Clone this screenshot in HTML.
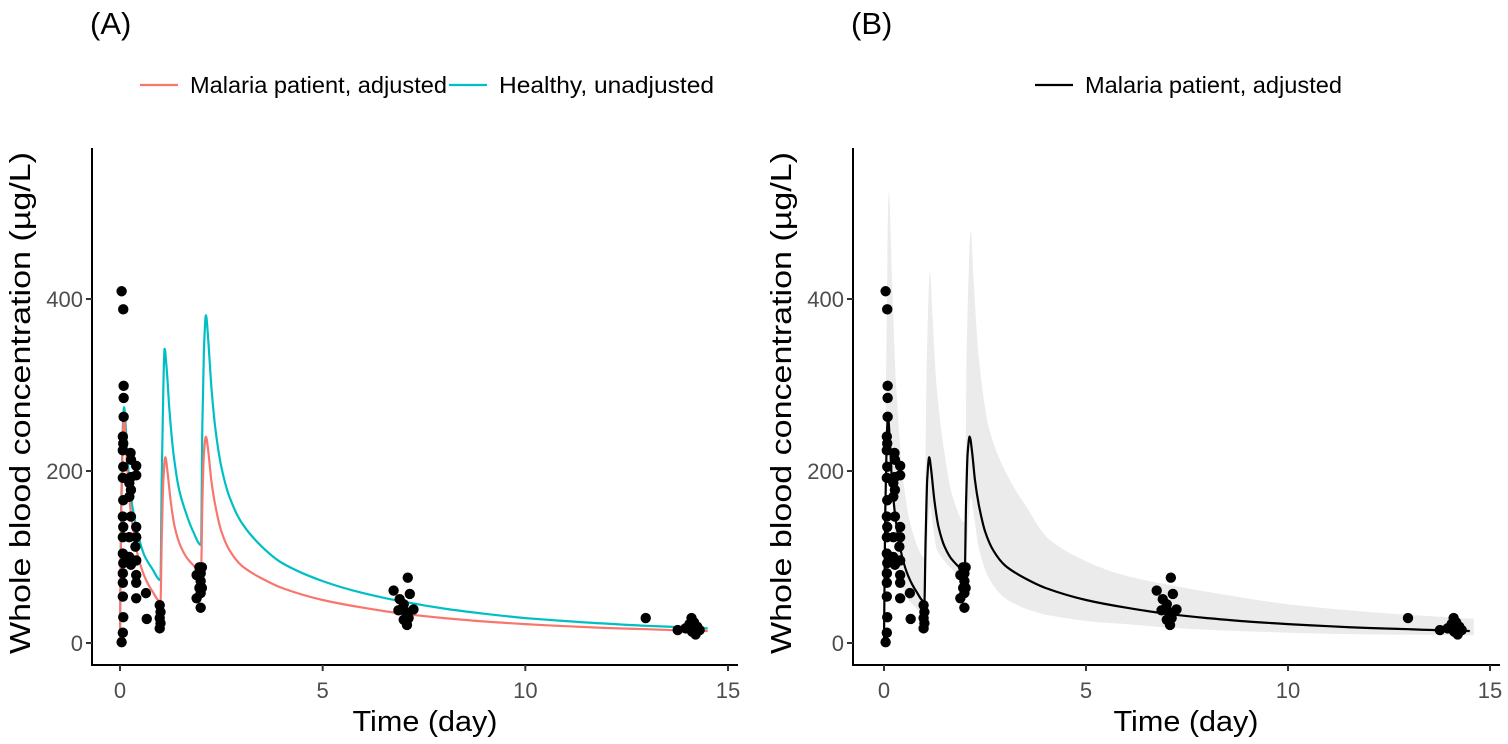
<!DOCTYPE html>
<html><head><meta charset="utf-8"><style>
html,body{margin:0;padding:0;background:#fff;}
svg{display:block;font-family:"Liberation Sans",Arial,sans-serif;}
</style></head><body>
<svg id="chart" width="1508" height="744" viewBox="0 0 1508 744" xmlns="http://www.w3.org/2000/svg"></svg>
<script>
// ---- data ----
const obsTime = [0.04,0.08,0.09,0.09,0.09,0.07,0.08,0.07,0.26,0.27,0.40,0.08,0.40,0.07,0.27,0.23,0.27,0.23,0.08,0.07,0.27,0.08,0.40,0.07,0.23,0.40,0.38,0.07,0.23,0.40,0.08,0.27,0.07,0.40,0.07,0.40,0.07,0.40,0.64,0.08,0.66,0.07,0.04,0.98,1.00,0.98,0.98,1.00,1.96,2.02,1.99,1.89,1.99,1.96,2.02,1.89,1.99,1.99,7.10,6.75,7.15,6.90,7.00,7.24,6.87,7.05,7.12,7.08,7.00,12.97,13.76,14.10,14.16,14.24,14.00,14.12,14.20,14.05,13.95,14.30];
const obsConc = [409,388,299,285,263,240,232,224,221,213,206,205,195,192,193,186,178,170,166,147,147,135,135,123,123,123,112,104,100,96,93,91,81,79,70,70,54,52,58,30,28,12,1,44,36,29,17,23,88,88,81,79,72,64,64,52,41,58,76,61,57,51,45,39,38,36,29,21,27,29,15,29,24,19,17,13,10,22,17,15];

const redTime = [0,0.03,0.07,0.1,0.15,0.2,0.3,0.45,0.6,0.8,1.0,1.03,1.07,1.12,1.17,1.25,1.35,1.5,1.7,2.0,2.03,2.07,2.12,2.18,2.25,2.35,2.5,2.7,3.0,3.5,4.0,5,6,7,8,9,10,11,12,13,14,14.5];
const redConc = [0,150,240,262,230,185,140,100,78,60,48,120,190,216,200,165,135,112,96,85,160,220,240,222,190,160,130,108,90,75,64,50,41,34,29,25,22,19.5,17.5,16,14.5,14];

const tealTime = [0,0.03,0.07,0.1,0.15,0.2,0.3,0.45,0.6,0.8,1.0,1.03,1.07,1.1,1.15,1.22,1.32,1.45,1.6,1.8,2.0,2.03,2.07,2.12,2.18,2.25,2.35,2.5,2.7,3.0,3.5,4.0,5,6,7,8,9,10,11,12,13,14,14.5];
const tealConc = [0,160,250,274,245,205,160,125,102,86,73,190,300,342,320,270,220,180,155,130,114,250,340,381,350,300,250,205,170,140,112,93,72,58,48,40,34,29,25.5,22.5,20,18,17];

const bandTime  = [0,0.05,0.12,0.2,0.3,0.5,0.7,1.0,1.05,1.14,1.2,1.3,1.5,1.7,2.0,2.05,2.15,2.22,2.35,2.6,3.0,3.5,4.1,5.35,6,7,8.2,10,12,14.6];
const bandUpper = [0,300,524,420,300,180,130,100,300,431,380,300,220,170,140,350,478,420,330,250,200,160,120,88,78,68,58,45,36,28];
const bandLower = [0,100,250,180,110,60,45,35,90,160,140,110,95,85,73,110,170,150,110,75,52,40,32,24,22,18,15,12,10,9];

const xTicks = [0,5,10,15];
const yTicks = [0,200,400];

// ---- drawing ----
const NS = "http://www.w3.org/2000/svg";
const svg = document.getElementById('chart');
function mk(tag, attrs, parent){
  const e = document.createElementNS(NS, tag);
  for (const k in attrs) e.setAttribute(k, attrs[k]);
  (parent||svg).appendChild(e);
  return e;
}
function yScale(v){ return 643 - v*0.86; }
function makeX(x0, x15){ return t => x0 + t*(x15-x0)/15; }
// monotone cubic path through screen points
function smoothPath(px, py, start){
  const n = px.length;
  const d = [], m = [];
  for (let i=0;i<n-1;i++) d.push((py[i+1]-py[i])/(px[i+1]-px[i]));
  for (let i=0;i<n;i++){
    if (i===0) m.push(d[0]);
    else if (i===n-1) m.push(d[n-2]);
    else if (d[i-1]*d[i] <= 0) m.push(0);
    else { const a=d[i-1], b=d[i]; m.push(2*a*b/(a+b)); }
  }
  let s = (start?start:'M') + px[0].toFixed(1)+','+py[0].toFixed(1);
  for (let i=0;i<n-1;i++){
    const h = px[i+1]-px[i];
    s += ' C'+(px[i]+h/3).toFixed(1)+','+(py[i]+m[i]*h/3).toFixed(1)+' '+
         (px[i+1]-h/3).toFixed(1)+','+(py[i+1]-m[i+1]*h/3).toFixed(1)+' '+
         px[i+1].toFixed(1)+','+py[i+1].toFixed(1);
  }
  return s;
}
function pathOf(ts, vs, xs, start){
  return smoothPath(ts.map(xs), vs.map(yScale), start);
}

function panel(id, axisX, x0, x15, xEnd, label, titleX){
  const xs = makeX(x0, x15);
  const g = mk('g', {});
  
  
  const t = mk('text', {x: axisX-2, y: 34, 'font-size': 31, fill: '#000'}, g);
  t.textContent = label;
  
  
  return {g, xs, axisX, xEnd, titleX};
}

function axes(p, id){
  const {g, xs, axisX, xEnd, titleX} = p;
  const ax = mk('g', {}, g);
  
  
  mk('line', {x1: axisX, y1: 148, x2: axisX, y2: 666, stroke: '#000', 'stroke-width': 2}, ax);
  mk('line', {x1: axisX-1, y1: 665, x2: xEnd, y2: 665, stroke: '#000', 'stroke-width': 2}, ax);
  xTicks.forEach(v=>{
    const x = xs(v);
    mk('line', {x1: x, y1: 665, x2: x, y2: 671, stroke: '#333', 'stroke-width': 2}, ax);
    const tx = mk('text', {x: x, y: 698, 'text-anchor': 'middle', 'font-size': 22, fill: '#4d4d4d'}, ax);
    tx.textContent = v;
    
    
  });
  yTicks.forEach(v=>{
    const y = yScale(v);
    mk('line', {x1: axisX-6, y1: y, x2: axisX, y2: y, stroke: '#333', 'stroke-width': 2}, ax);
    const ty = mk('text', {x: axisX-9, y: y+8, 'text-anchor': 'end', 'font-size': 22, fill: '#4d4d4d'}, ax);
    ty.textContent = v;
    
    
  });
  const xt = mk('text', {x: titleX, y: 731, 'text-anchor': 'middle', 'font-size': 29, fill: '#000',
    textLength: 145, lengthAdjust: 'spacingAndGlyphs'}, ax);
  xt.textContent = 'Time (day)';
  
  
  const yt = mk('text', {x: 0, y: 0, 'text-anchor': 'middle', 'font-size': 29, fill: '#000',
    textLength: 502, lengthAdjust: 'spacingAndGlyphs',
    transform: 'translate(' + (axisX-62) + ',403) rotate(-90)'}, ax);
  yt.textContent = 'Whole blood concentration (µg/L)';
  
  
}

function points(p){
  const pg = mk('g', {}, p.g);
  
  
  obsTime.forEach((t,i)=>{
    const c = mk('circle', {cx: p.xs(t), cy: yScale(obsConc[i]), r: 5.2, fill: '#000'}, pg);
    
    
  });
}

function legendEntry(g, x, color, text, name, w){
  const le = mk('g', {}, g);
  
  
  mk('line', {x1: x, y1: 85, x2: x+38, y2: 85, stroke: color, 'stroke-width': 2.2}, le);
  const tt = mk('text', {x: x+50, y: 93, 'font-size': 23, fill: '#000', textLength: w, lengthAdjust: 'spacingAndGlyphs'}, le);
  tt.textContent = text;
}

// Panel A
const A = panel('a', 92, 120, 728, 738, '(A)', 425);
axes(A, 'a');
legendEntry(A.g, 140, '#F8766D', 'Malaria patient, adjusted', 'legend-entry-malaria', 257);
legendEntry(A.g, 449, '#00BFC4', 'Healthy, unadjusted', 'legend-entry-healthy', 215);
const tl = mk('path', {d: pathOf(tealTime, tealConc, A.xs), fill: 'none', stroke: '#00BFC4', 'stroke-width': 2.2}, A.g);


const rl = mk('path', {d: pathOf(redTime, redConc, A.xs), fill: 'none', stroke: '#F8766D', 'stroke-width': 2.2}, A.g);


points(A);

// Panel B
const B = panel('b', 853, 884, 1490, 1500, '(B)', 1186);
const revT = bandTime.slice().reverse();
const revL = bandLower.slice().reverse();
const bandD = pathOf(bandTime, bandUpper, B.xs) + ' ' + pathOf(revT, revL, B.xs, 'L') + ' Z';
const band = mk('path', {d: bandD, fill: '#ebebeb', stroke: 'none'}, B.g);


axes(B, 'b');
legendEntry(B.g, 1035, '#000', 'Malaria patient, adjusted', 'legend-entry-malaria-b', 257);
const bl = mk('path', {d: pathOf(redTime, redConc, B.xs), fill: 'none', stroke: '#000', 'stroke-width': 2.2}, B.g);


points(B);
</script>
</body></html>
